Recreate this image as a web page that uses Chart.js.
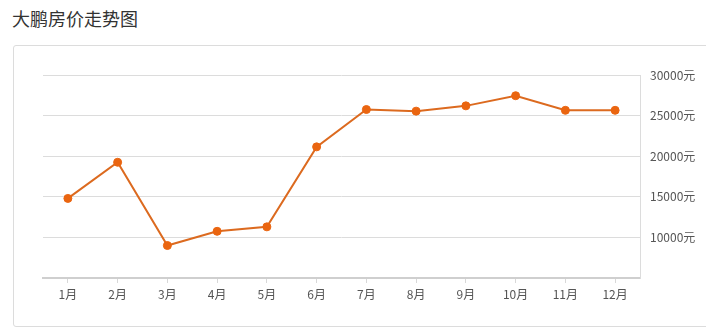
<!DOCTYPE html>
<html>
<head>
<meta charset="utf-8">
<script src="https://cdn.jsdelivr.net/npm/chart.js@4/dist/chart.umd.min.js"></script>
<style>
	html, body { margin: 0; padding: 0; background: #fff; }
	#wrap { position: relative; width: 706px; height: 330px; overflow: hidden; }
	#title { position: absolute; left: 12px; top: 5px; font: 18px "Noto Sans CJK SC", sans-serif; color: #333; }
	#card { position: absolute; left: 13px; top: 45px; width: 760px; height: 280px; border: 1px solid #dcdcdc; border-radius: 3px; }
	#graph { position: absolute; left: 0; top: 0; }
</style>
</head>
<body>
<div id="wrap">
	<div id="title">大鹏房价走势图</div>
	<div id="card"></div>
	<canvas id="graph" width="706" height="330"></canvas>
</div>
<script>
const months = ['1月', '2月', '3月', '4月', '5月', '6月', '7月', '8月', '9月', '10月', '11月', '12月'];
const prices = [14800, 19250, 9000, 10750, 11300, 21150, 25750, 25550, 26200, 27450, 25650, 25650];
const yTicks = [5000, 10000, 15000, 20000, 25000, 30000];

const ctx = document.getElementById("graph");

const myChart = new Chart(ctx, {
	type: 'line',
	data: {
		labels: months,
		datasets: [{
			label: '房价',
			data: prices,
			borderColor: '#dc6a1f',
			borderWidth: 2,
			pointBackgroundColor: '#ea6510',
			pointBorderColor: '#ea6510',
			pointRadius: 4,
			pointBorderWidth: 1,
			tension: 0,
			fill: false,
		}]
	},
	options: {
		responsive: false,
		animation: false,
		layout: {
			padding: { left: 43, top: 75, right: 0, bottom: 0 }
		},
		scales: {
			x: {
				offset: true,
				grid: {
					drawOnChartArea: false,
					drawTicks: true,
					tickLength: 5,
					color: '#d8d8d8',
				},
				border: { color: '#cfcfcf', width: 2 },
				ticks: {
					color: '#555',
					padding: 4,
					font: { family: '"Noto Sans CJK SC", sans-serif', size: 12 },
				},
				afterFit: function (scale) {
					scale.height = 52;
				}
			},
			y: {
				position: 'right',
				min: 5000,
				max: 30000,
				afterBuildTicks: function (scale) {
					scale.ticks = yTicks.map(v => ({ value: v }));
				},
				grid: {
					color: '#dcdcdc',
					drawTicks: false,
				},
				border: { color: '#dcdcdc', width: 1 },
				ticks: {
					color: '#555',
					padding: 10,
					font: { family: '"Noto Sans CJK SC", sans-serif', size: 12 },
					callback: function (value) {
						return value === 5000 ? '' : value + '元';
					}
				},
				afterFit: function (scale) {
					scale.width = 66;
				}
			}
		},
		plugins: {
			legend: { display: false },
			tooltip: { enabled: false }
		}
	}
});
</script>
</body>
</html>
